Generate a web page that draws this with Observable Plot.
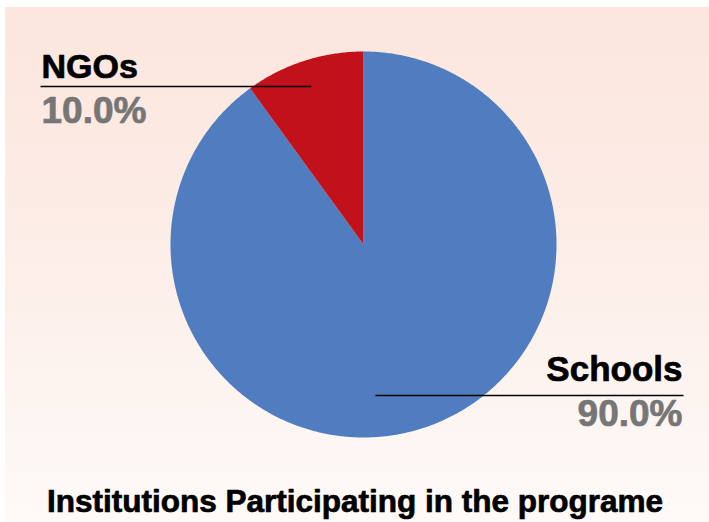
<!DOCTYPE html>
<html><head><meta charset="utf-8">
<script src="https://cdn.jsdelivr.net/npm/d3@7"></script>
<script src="https://cdn.jsdelivr.net/npm/@observablehq/plot@0.6"></script>
<style>
html,body{margin:0;padding:0;background:#fff;}
#chart{position:relative;width:709px;height:522px;}
#chart::before{content:"";position:absolute;left:5px;top:7px;right:0;bottom:0;background:linear-gradient(to bottom,#FCE6DD 0%,#FCEDE7 45%,#FEFAF8 100%);}
#chart svg{display:block;position:relative;}
</style></head><body><div id="chart"></div>
<script>
// ---- data ----
const categories = ["Schools", "NGOs"];
const values = [90, 10];
const colors = ["#4F7DC0", "#C1121C"];
const chartTitle = "Institutions Participating in the programe";

// ---- layout ----
const W = 709, H = 522;
const CX = 363, CY = 244, R = 193;
const xDomain = [-CX / R, (W - CX) / R];
const yDomain = [-(H - CY) / R, CY / R];
const px = (x) => (x - CX) / R;
const py = (y) => (CY - y) / R;

const total = d3.sum(values);
const fmt = d3.format(".1%");
const arcs = d3.pie().sort(null).value(d => d)(values);
const slicePts = [];
arcs.forEach((a, i) => {
  const cat = categories[i];
  slicePts.push({cat, x: 0, y: 0});
  const n = Math.max(2, Math.ceil((a.endAngle - a.startAngle) / (Math.PI / 360)));
  for (let k = 0; k <= n; k++) {
    const t = a.startAngle + (a.endAngle - a.startAngle) * k / n;
    slicePts.push({cat, x: Math.sin(t), y: Math.cos(t)});
  }
});

const labelLayout = {
  NGOs:    {anchor: "start", x: 41,  nameY: 77,  pctY: 122, x1: 40,  x2: 311, ly: 86, size: 34},
  Schools: {anchor: "end",   x: 682, nameY: 380, pctY: 425, x1: 375, x2: 683, ly: 395, size: 35}
};
const labels = categories.map((c, i) => ({cat: c, pct: fmt(values[i] / total), ...labelLayout[c]}));

const font = "'Liberation Sans', Arial, Helvetica, sans-serif";
const labelMarks = labels.flatMap(l => [
  Plot.text([l], {x: d => px(d.x), y: d => py(d.nameY), text: d => d.cat, textAnchor: l.anchor, lineAnchor: "bottom",
    fontSize: l.size, fontWeight: "bold", fill: "#000", stroke: "#000", strokeWidth: 0.7}),
  Plot.text([l], {x: d => px(d.x), y: d => py(d.pctY), text: d => d.pct, textAnchor: l.anchor, lineAnchor: "bottom",
    fontSize: 37, fontWeight: "bold", fill: "#767676", stroke: "#767676", strokeWidth: 0.7}),
  Plot.link([l], {x1: d => px(d.x1), x2: d => px(d.x2), y1: d => py(d.ly), y2: d => py(d.ly), stroke: "#000", strokeWidth: 1.5})
]);

const chart = Plot.plot({
  width: W, height: H, margin: 0,
  x: {domain: xDomain, axis: null},
  y: {domain: yDomain, axis: null},
  color: {domain: categories, range: colors},
  style: {background: "transparent", fontFamily: font},
  marks: [
    Plot.line(slicePts, {x: "x", y: "y", z: "cat", fill: "cat", stroke: "none", curve: "linear-closed"}),
    ...labelMarks,
    Plot.text([chartTitle], {x: px(354.5), y: py(511), text: d => d, textAnchor: "middle", lineAnchor: "bottom",
      fontSize: 31.5, fontWeight: "bold", fill: "#000", stroke: "#000", strokeWidth: 0.7})
  ]
});
document.getElementById("chart").appendChild(chart);
</script></body></html>
